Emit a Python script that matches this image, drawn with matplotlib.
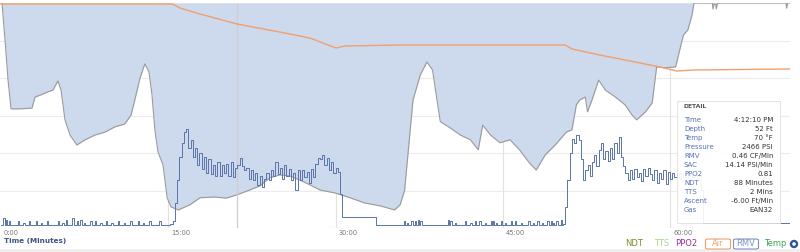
import matplotlib
matplotlib.use("Agg")
import matplotlib.pyplot as plt
from matplotlib.patches import FancyBboxPatch, Rectangle, Circle

# ---------------- data ----------------
depth_t = [0.0, 0.09, 0.36, 0.63, 0.9, 1.7, 2.78, 3.05, 3.5, 4.2, 4.66, 5.1, 5.38, 5.74, 6.19, 6.8,
           7.53, 8.43, 9.33, 10.2, 11.1, 11.66, 12.0, 12.47, 12.9, 13.27, 13.54, 13.8, 14.08, 14.53,
           14.9, 15.25, 15.9, 16.95, 17.85, 19.2, 20.2, 21.17, 22.3, 23.2, 24.1, 25.0, 25.9, 26.8,
           27.7, 28.6, 29.96, 31.3, 32.6, 34.0, 35.3, 35.8, 36.2, 36.7, 36.95, 37.6, 38.2, 38.7,
           39.1, 39.4, 40.3, 41.2, 42.1, 42.8, 43.2, 43.9, 44.75, 45.65, 46.5, 47.4, 48.0, 48.8,
           49.7, 50.7, 51.2, 51.6, 51.9, 52.4, 52.6, 53.0, 53.6, 54.2, 55.1, 55.96, 56.6, 57.0,
           57.8, 58.4, 58.8, 59.55, 60.5, 61.2, 61.6, 61.97, 62.15, 63.8, 63.85, 63.95, 64.1,
           64.15, 64.25, 70.4, 70.45, 70.55, 70.8]
depth_ft = [0.0, 0.0, 10.0, 20.9, 28.7, 28.7, 28.5, 25.5, 25.0, 24.1, 23.6, 21.1, 23.6, 31.7, 35.8,
            38.5, 37.1, 35.8, 35.0, 33.6, 32.8, 30.4, 26.3, 20.3, 16.5, 18.7, 24.9, 34.4, 40.4,
            43.9, 52.8, 55.3, 56.1, 54.7, 52.8, 52.6, 52.9, 52.0, 50.7, 49.6, 47.4, 46.6, 46.9,
            48.0, 49.3, 50.7, 51.5, 52.8, 54.2, 55.0, 56.1, 54.7, 50.7, 34.4, 26.3, 19.5, 16.0,
            18.2, 26.3, 32.2, 33.9, 35.8, 37.1, 39.8, 33.1, 35.8, 37.9, 37.1, 39.8, 43.4, 45.3,
            41.2, 38.5, 35.0, 34.4, 27.6, 26.3, 25.5, 29.5, 26.3, 20.9, 23.6, 25.5, 27.6, 30.4,
            31.7, 29.5, 27.1, 17.3, 17.6, 17.3, 8.7, 7.3, 3.3, 0.0, 0.0, 1.6, 0.3, 0.3, 1.6, 0.0,
            0.0, 1.4, 0.0, 0.0]

air_t = [0.0, 15.4, 16.05, 17.85, 21.17, 25.0, 27.7, 30.05, 30.85, 35.8, 50.6, 51.2, 53.7,
         55.96, 59.1, 60.6, 62.2, 70.8]
air_psi = [3000, 3000, 2893, 2733, 2466, 2252, 2092, 1825, 1879, 1905, 1905, 1799, 1638, 1505,
           1318, 1211, 1238, 1265]

# RMV: small surface spikes (minutes) before descent and during the mid-dive gap
rmv_spike_t = [0.2, 0.45, 0.7, 1.5, 2.0, 2.5, 3.1, 3.6, 4.1, 5.1, 5.5, 5.8, 6.4, 6.8, 7.1, 7.4,
               8.0, 8.4, 8.9, 9.4, 9.9, 10.5, 11.0, 11.6, 12.3, 12.7, 13.3, 14.2,
               36.1, 36.4, 36.8, 37.1, 37.4, 37.6, 40.1, 40.3, 40.7, 41.6, 42.1, 42.5, 42.9,
               43.4, 43.9, 44.1, 44.4, 44.8, 45.2, 45.7, 46.1, 46.6, 47.3, 47.7, 48.1, 48.5,
               49.0, 49.3, 49.5, 49.8, 50.2]
rmv_spike_v = [0.07, 0.06, 0.05, 0.05, 0.04, 0.05, 0.05, 0.04, 0.05, 0.05, 0.04, 0.06, 0.07,
               0.05, 0.06, 0.04, 0.05, 0.05, 0.04, 0.05, 0.04, 0.05, 0.04, 0.05, 0.05, 0.04,
               0.05, 0.05,
               0.05, 0.04, 0.05, 0.05, 0.06, 0.05, 0.06, 0.05, 0.04, 0.05, 0.04, 0.05, 0.05,
               0.04, 0.05, 0.05, 0.04, 0.05, 0.04, 0.05, 0.05, 0.04, 0.05, 0.04, 0.05, 0.04,
               0.05, 0.05, 0.04, 0.05, 0.06]

rmv_seg1_t0 = 15.2
rmv_seg1 = [0.03, 0.05, 0.18, 0.35, 0.52, 0.62, 0.70, 0.72, 0.58, 0.64, 0.52, 0.58, 0.46, 0.55,
            0.43, 0.52, 0.40, 0.50, 0.39, 0.46, 0.38, 0.48, 0.38, 0.46, 0.40, 0.47, 0.38, 0.48,
            0.37, 0.44, 0.46, 0.51, 0.45, 0.42, 0.44, 0.36, 0.42, 0.35, 0.40, 0.31, 0.38, 0.30,
            0.36, 0.40, 0.35, 0.42, 0.38, 0.48, 0.39, 0.44, 0.36, 0.46, 0.38, 0.43, 0.35, 0.40,
            0.28, 0.42, 0.35, 0.42, 0.37, 0.41, 0.33, 0.43, 0.37, 0.47, 0.51, 0.50, 0.53, 0.46,
            0.51, 0.42, 0.48, 0.40, 0.44, 0.41, 0.25, 0.08]
rmv_seg2_t0 = 50.4
rmv_seg2 = [0.03, 0.15, 0.35, 0.55, 0.65, 0.62, 0.68, 0.64, 0.50, 0.35, 0.42, 0.46, 0.38, 0.48,
            0.53, 0.45, 0.57, 0.62, 0.50, 0.56, 0.49, 0.58, 0.50, 0.62, 0.55, 0.66, 0.52, 0.45,
            0.40, 0.35, 0.42, 0.36, 0.43, 0.37, 0.40, 0.34, 0.43, 0.38, 0.44, 0.39, 0.35, 0.42,
            0.33, 0.40, 0.36, 0.42, 0.32, 0.41, 0.36, 0.40, 0.37, 0.40, 0.36, 0.40, 0.37, 0.41,
            0.36, 0.39, 0.37, 0.40, 0.36, 0.38, 0.28, 0.04]
rmv_base_early = 0.02
rmv_mid_level = 0.08
rmv_mid_end = 33.6
rmv_end_level = 0.04

time_ticks = [0, 15, 30, 45, 60]
time_tick_labels = ["0:00", "15:00", "30:00", "45:00", "60:00"]
cursor_t = 21.2

detail_labels = ["Time", "Depth", "Temp", "Pressure", "RMV", "SAC", "PPO2", "NDT", "TTS", "Ascent", "Gas"]
detail_values = ["4:12:10 PM", "52 Ft", "70 °F", "2466 PSI", "0.46 CF/Min", "14.14 PSI/Min",
                 "0.81", "88 Minutes", "2 Mins", "-6.00 Ft/Min", "EAN32"]

legend_names = ["NDT", "TTS", "PPO2", "Air", "RMV", "Temp"]
legend_colors = ["#7d8c2c", "#a9d38a", "#9b2fa3", "#f0a06e", "#7d93c4", "#3aa552"]
legend_boxed = [False, False, False, True, True, False]
legend_x_px = [634, 662, 686, 718, 746, 775]

# ---------------- build RMV series ----------------
rmv_t, rmv_v = [0.0], [rmv_base_early]
w = 0.12
for ts, hv in zip(rmv_spike_t[:28], rmv_spike_v[:28]):
    rmv_t += [ts, ts, ts + w, ts + w]
    rmv_v += [rmv_base_early, hv, hv, rmv_base_early]
for i, v in enumerate(rmv_seg1):
    rmv_t.append(rmv_seg1_t0 + 0.2 * i)
    rmv_v.append(v)
rmv_t += [rmv_mid_end, rmv_mid_end]
rmv_v += [rmv_mid_level, rmv_base_early]
for ts, hv in zip(rmv_spike_t[28:], rmv_spike_v[28:]):
    rmv_t += [ts, ts, ts + w, ts + w]
    rmv_v += [rmv_base_early, hv, hv, rmv_base_early]
for i, v in enumerate(rmv_seg2):
    rmv_t.append(rmv_seg2_t0 + 0.2 * i)
    rmv_v.append(v)
rmv_t.append(70.8)
rmv_v.append(rmv_end_level)

# ---------------- figure ----------------
W, H = 800, 252
fig = plt.figure(figsize=(8, 2.52), dpi=100)
fig.patch.set_facecolor("white")

def fx(px):
    return px / W

def fy(py):
    return 1 - py / H

ax = fig.add_axes([fx(0), fy(228), fx(790), (228 - 3) / H])
ax.set_xlim(-0.09, 70.76)
ax.set_ylim(61, 0)
for s in ax.spines.values():
    s.set_visible(False)
ax.set_xticks([])
ax.set_yticks([])

# grid
for k in range(7):
    ax.axhline(61 * k / 6, color="#ececec", lw=0.8, zorder=0)
ax.axhline(61, color="#dcdcdc", lw=0.8, zorder=0)
for tt in time_ticks[1:]:
    ax.axvline(tt, color="#e2e2e2", lw=0.8, zorder=0)

ax.fill_between(depth_t, 0, depth_ft, color="#cdd9ec", lw=0, zorder=1)
ax.plot(depth_t, depth_ft, color="#9a9a9a", lw=0.8, zorder=2)
ax.axvline(cursor_t, color="#cfcfcf", lw=0.9, zorder=2.5)

ax_p = ax.twinx()
ax_p.set_ylim(-2981, 3027)
ax_p.axis("off")
ax_p.plot(air_t, air_psi, color="#f0a06e", lw=1.0, zorder=3)

ax_r = ax.twinx()
ax_r.set_ylim(0, 1.64)
ax_r.axis("off")
ax_r.plot(rmv_t, rmv_v, color="#5a74aa", lw=0.7, drawstyle="steps-post", zorder=4)

# tick labels
for tt, lab in zip(time_ticks, time_tick_labels):
    xpx = 1 + 11.15 * tt
    fig.text(fx(xpx + 3), fy(233), lab, fontsize=4.8, color="#777777", ha="left", va="center")
fig.text(fx(4), fy(240.5), "Time (Minutes)", fontsize=5.2, color="#3f5580",
         fontweight="bold", ha="left", va="center")

# bottom strip
fig.add_artist(Rectangle((0, 0), 1, fy(249), transform=fig.transFigure,
                         facecolor="#efefef", edgecolor="none"))

# legend
for name, col, boxed, xp in zip(legend_names, legend_colors, legend_boxed, legend_x_px):
    fig.text(fx(xp), fy(244), name, fontsize=6, color=col, ha="center", va="center")
    if boxed:
        fig.add_artist(FancyBboxPatch((fx(xp - 12.5), fy(249)), fx(25), 10 / H,
                                      boxstyle="round,pad=0,rounding_size=0.004",
                                      transform=fig.transFigure, facecolor="none",
                                      edgecolor=col, lw=0.8))
fig.add_artist(Circle((7.94, (252 - 244) / 100), 0.042, transform=fig.dpi_scale_trans,
                      facecolor="#2e5597", edgecolor="none"))
fig.add_artist(Circle((7.94, (252 - 244) / 100), 0.018, transform=fig.dpi_scale_trans,
                      facecolor="white", edgecolor="none"))

# tooltip
fig.add_artist(Rectangle((fx(677), fy(223)), fx(103), (223 - 101) / H,
                         transform=fig.transFigure, facecolor="white", alpha=0.92,
                         edgecolor="#dddddd", lw=0.6, zorder=10))
fig.add_artist(Rectangle((fx(677), fy(113)), fx(103), 0.5 / H, transform=fig.transFigure,
                         facecolor="#e4e4e4", edgecolor="none", zorder=11))
fig.text(fx(684), fy(106.5), "DETAIL", fontsize=4.4, color="#555555", fontweight="bold",
         ha="left", va="center", zorder=12)
for i, (lab, val) in enumerate(zip(detail_labels, detail_values)):
    ypx = 120 + 9 * i
    fig.text(fx(684), fy(ypx), lab, fontsize=5, color="#5572b3", ha="left", va="center", zorder=12)
    fig.text(fx(773), fy(ypx), val, fontsize=5, color="#333333", ha="right", va="center", zorder=12)

fig.savefig("out.png", dpi=100)
